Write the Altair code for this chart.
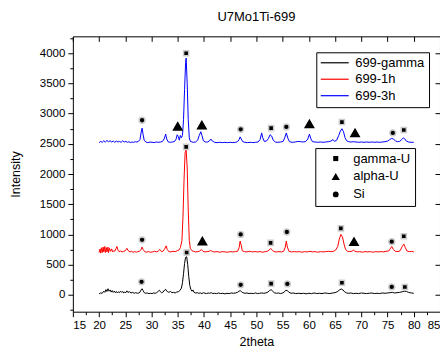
import altair as alt
import pandas as pd

FONT = "Liberation Sans"

# ---------------- data ----------------
series_names = ["699-gamma", "699-1h", "699-3h"]
series_colors = ["#000000", "#ff0000", "#0000ff"]

gamma_x = [20.0, 20.3, 20.6, 20.9, 21.1, 21.3, 21.5, 21.7, 21.9, 22.1, 22.3, 22.5, 22.7, 22.9, 23.1, 23.3, 23.5, 23.7, 23.9, 24.1,
           24.3, 24.5, 24.7, 24.9, 25.1, 25.3, 25.5, 25.8, 26.1, 26.4, 26.7, 27.0, 27.3, 27.6, 27.8, 28.0, 28.2, 28.4, 28.6, 28.9,
           29.2, 29.5, 29.8, 30.1, 30.4, 30.7, 31.0, 31.3, 31.5, 31.7, 31.9, 32.2, 32.5, 32.7, 32.9, 33.1, 33.3, 33.6, 33.9, 34.2,
           34.5, 34.8, 35.1, 35.4, 35.7, 35.9, 36.1, 36.3, 36.5, 36.7, 36.9, 37.1, 37.3, 37.5, 37.7, 37.9, 38.1, 38.4, 38.7, 39.0,
           39.3, 39.6, 39.9, 40.2, 40.5, 40.8, 41.1, 41.4, 41.7, 42.0, 42.4, 42.8, 43.2, 43.6, 44.0, 44.4, 44.8, 45.2, 45.6, 46.0,
           46.4, 46.7, 46.9, 47.1, 47.4, 47.8, 48.2, 48.6, 49.0, 49.4, 49.8, 50.2, 50.6, 51.0, 51.4, 51.8, 52.2, 52.5, 52.8, 53.1,
           53.4, 53.8, 54.2, 54.6, 55.0, 55.3, 55.6, 55.9, 56.2, 56.6, 57.0, 57.5, 58.0, 58.5, 59.0, 59.5, 60.0, 60.5, 61.0, 61.5,
           62.0, 62.5, 63.0, 63.5, 64.0, 64.5, 65.0, 65.5, 65.9, 66.2, 66.5, 66.8, 67.2, 67.6, 68.0, 68.5, 69.0, 69.5, 70.0, 70.5,
           71.0, 71.5, 72.0, 72.5, 73.0, 73.5, 74.0, 74.5, 75.0, 75.5, 75.9, 76.3, 76.8, 77.3, 77.8, 78.2, 78.6, 79.0, 79.5, 80.0]
gamma_y = [15, 30, 25, 60, 40, 85, 55, 100, 60, 80, 45, 70, 40, 60, 35, 55, 30, 50, 35, 60,
           40, 55, 30, 45, 35, 65, 40, 50, 30, 40, 25, 35, 25, 30, 45, 80, 100, 70, 35, 25,
           30, 20, 25, 20, 30, 25, 35, 60, 75, 50, 35, 45, 80, 90, 60, 50, 40, 55, 35, 40,
           30, 45, 50, 70, 110, 200, 350, 520, 620, 630, 500, 300, 150, 90, 60, 80, 40, 30, 35, 25,
           30, 20, 35, 25, 20, 30, 25, 35, 20, 25, 20, 30, 20, 25, 15, 25, 20, 30, 25, 30,
           40, 60, 70, 55, 35, 25, 30, 20, 25, 20, 30, 20, 25, 30, 25, 30, 45, 70, 85, 60,
           35, 25, 30, 20, 30, 45, 75, 70, 40, 25, 30, 20, 25, 20, 25, 15, 25, 20, 30, 20,
           25, 20, 30, 25, 20, 30, 35, 55, 85, 95, 80, 50, 30, 25, 30, 20, 25, 20, 30, 25,
           20, 25, 30, 20, 25, 20, 30, 25, 30, 35, 40, 30, 35, 40, 50, 60, 55, 40, 30, 25]

h1_x = [20.0, 20.2, 20.3, 20.5, 20.6, 20.8, 20.9, 21.1, 21.2, 21.4, 21.5, 21.7, 21.8, 22.0, 22.2, 22.4, 22.6, 22.8, 23.0, 23.2,
        23.4, 23.6, 23.8, 24.1, 24.4, 24.7, 25.0, 25.3, 25.6, 25.9, 26.2, 26.5, 26.8, 27.1, 27.4, 27.7, 28.0, 28.2, 28.4, 28.7,
        29.0, 29.4, 29.8, 30.2, 30.6, 31.0, 31.3, 31.6, 31.9, 32.2, 32.5, 32.8, 33.0, 33.3, 33.7, 34.1, 34.5, 34.9, 35.2, 35.5,
        35.8, 36.0, 36.2, 36.4, 36.6, 36.8, 37.0, 37.2, 37.4, 37.7, 38.0, 38.4, 38.8, 39.2, 39.5, 39.8, 40.2, 40.6, 41.0, 41.3,
        41.6, 42.0, 42.5, 43.0, 43.5, 44.0, 44.5, 45.0, 45.5, 46.0, 46.4, 46.7, 46.9, 47.1, 47.3, 47.7, 48.2, 48.7, 49.2, 49.7,
        50.2, 50.7, 51.2, 51.7, 52.1, 52.4, 52.7, 53.0, 53.3, 53.8, 54.3, 54.8, 55.2, 55.5, 55.7, 55.9, 56.2, 56.7, 57.2, 57.7,
        58.2, 58.7, 59.2, 59.7, 60.2, 60.7, 61.2, 61.7, 62.2, 62.7, 63.2, 63.7, 64.2, 64.7, 65.1, 65.5, 65.8, 66.1, 66.4, 66.7,
        67.0, 67.4, 67.8, 68.2, 68.5, 68.8, 69.2, 69.7, 70.2, 70.7, 71.2, 71.7, 72.2, 72.7, 73.2, 73.7, 74.2, 74.7, 75.2, 75.5,
        75.8, 76.1, 76.5, 77.0, 77.4, 77.8, 78.1, 78.4, 78.7, 79.2, 79.6, 80.0]
h1_y = [700, 760, 690, 780, 700, 790, 710, 800, 700, 780, 710, 790, 700, 770, 720, 760, 710, 730, 720, 760,
        800, 740, 715, 725, 710, 720, 730, 770, 725, 710, 720, 705, 715, 705, 715, 720, 750, 790, 750, 715,
        705, 715, 705, 710, 720, 710, 725, 750, 715, 720, 760, 810, 750, 715, 710, 720, 715, 730, 740, 780,
        900, 1300, 1900, 2350, 2400, 2100, 1400, 900, 770, 730, 720, 710, 715, 725, 750, 720, 710, 715, 720, 735,
        715, 710, 715, 705, 715, 710, 705, 715, 710, 715, 720, 780, 890, 820, 730, 715, 710, 720, 710, 715,
        710, 715, 705, 715, 720, 740, 765, 745, 715, 710, 715, 710, 720, 790, 890, 790, 720, 710, 715, 710,
        715, 705, 715, 710, 720, 710, 715, 705, 715, 710, 715, 720, 715, 720, 740, 800, 920, 1000, 960, 840,
        750, 720, 715, 720, 740, 720, 710, 715, 705, 715, 710, 715, 705, 715, 710, 715, 710, 720, 725, 760,
        800, 750, 720, 715, 730, 800, 840, 780, 725, 715, 720, 710]

h3_x = [20.0, 20.3, 20.6, 20.9, 21.2, 21.5, 21.8, 22.1, 22.4, 22.7, 23.0, 23.3, 23.6, 23.9, 24.2, 24.5, 24.8, 25.1, 25.4, 25.7,
        26.0, 26.3, 26.6, 26.9, 27.2, 27.5, 27.8, 28.0, 28.2, 28.4, 28.6, 28.9, 29.3, 29.7, 30.1, 30.5, 30.9, 31.3, 31.7, 32.1,
        32.4, 32.7, 32.9, 33.2, 33.6, 34.0, 34.4, 34.7, 34.9, 35.1, 35.3, 35.5, 35.7, 35.9, 36.1, 36.3, 36.5, 36.6, 36.8, 37.0,
        37.2, 37.4, 37.7, 38.0, 38.4, 38.8, 39.1, 39.4, 39.6, 39.9, 40.3, 40.7, 41.0, 41.3, 41.6, 42.0, 42.5, 43.0, 43.5, 44.0,
        44.5, 45.0, 45.5, 46.0, 46.4, 46.7, 46.9, 47.1, 47.4, 47.8, 48.3, 48.8, 49.3, 49.8, 50.3, 50.7, 51.0, 51.2, 51.5, 51.9,
        52.3, 52.6, 52.9, 53.2, 53.6, 54.1, 54.6, 55.1, 55.4, 55.7, 56.0, 56.3, 56.8, 57.4, 57.9, 58.4, 58.9, 59.4, 59.8, 60.1,
        60.4, 60.7, 61.2, 61.7, 62.2, 62.7, 63.2, 63.7, 64.2, 64.6, 64.9, 65.3, 65.7, 66.0, 66.3, 66.6, 66.9, 67.2, 67.6, 68.0,
        68.5, 69.0, 69.5, 70.0, 70.5, 71.0, 71.5, 72.0, 72.5, 73.0, 73.5, 74.0, 74.5, 75.0, 75.4, 75.8, 76.1, 76.5, 76.9, 77.3,
        77.7, 78.0, 78.3, 78.6, 79.0, 79.5, 80.0]
h3_y = [2520, 2540, 2525, 2550, 2530, 2555, 2535, 2550, 2530, 2545, 2525, 2545, 2530, 2540, 2525, 2550, 2530, 2540, 2525, 2535,
        2520, 2530, 2525, 2535, 2530, 2540, 2570, 2680, 2760, 2650, 2560, 2530, 2520, 2530, 2525, 2520, 2530, 2525, 2530, 2540,
        2580, 2660, 2580, 2530, 2525, 2530, 2540, 2580, 2650, 2620, 2560, 2640, 2600, 2640, 2900, 3400, 3850, 3920, 3500, 2900,
        2600, 2540, 2530, 2525, 2530, 2560, 2640, 2700, 2640, 2550, 2530, 2530, 2545, 2580, 2545, 2525, 2520, 2525, 2520, 2525,
        2520, 2525, 2520, 2525, 2535, 2570, 2615, 2580, 2535, 2525, 2520, 2525, 2520, 2525, 2530, 2570, 2680, 2600, 2540, 2545,
        2590, 2650, 2630, 2560, 2530, 2525, 2530, 2540, 2600, 2680, 2590, 2535, 2525, 2530, 2540, 2535, 2530, 2540, 2580, 2660,
        2580, 2535, 2530, 2525, 2530, 2525, 2530, 2535, 2545, 2570, 2540, 2560, 2640, 2710, 2750, 2700, 2600, 2550, 2535, 2530,
        2535, 2530, 2525, 2530, 2525, 2530, 2525, 2530, 2525, 2530, 2525, 2530, 2535, 2545, 2570, 2590, 2580, 2550, 2535, 2540,
        2570, 2600, 2580, 2545, 2530, 2525, 2525]

phase_names = ["gamma-U", "alpha-U", "Si"]
phase_shapes = ["square", "triangle-up", "circle"]
phase_sizes = [26, 70, 34]

marker_x = [28.2, 35.0, 36.6, 39.6, 47.0, 52.8, 55.7, 60.1, 66.3, 68.8, 76.0, 78.1,
            28.2, 36.6, 39.7, 47.0, 52.7, 55.8, 66.1, 68.6, 75.8, 78.1,
            28.1, 36.7, 47.0, 52.8, 55.9, 66.3, 75.8, 78.3]
marker_y = [2890, 2790, 4000, 2810, 2740, 2760, 2780, 2830, 2860, 2680, 2680, 2730,
            910, 2450, 890, 1000, 860, 1040, 1100, 880, 880, 970,
            215, 700, 165, 185, 180, 200, 130, 130]
marker_phase = ["Si", "alpha-U", "gamma-U", "alpha-U", "Si", "gamma-U", "Si", "alpha-U", "gamma-U", "alpha-U", "Si", "gamma-U",
                "Si", "gamma-U", "alpha-U", "Si", "gamma-U", "Si", "gamma-U", "alpha-U", "Si", "gamma-U",
                "Si", "gamma-U", "Si", "gamma-U", "Si", "gamma-U", "Si", "gamma-U"]

x_minor_ticks = [15 + 2.5 * i for i in range(29)]
x_major_ticks = [15 + 5 * i for i in range(15)]
y_minor_ticks = [-250 + 250 * i for i in range(19)]
y_major_ticks = [500 * i for i in range(9)]
x_domain = [15, 85]
y_domain = [-280, 4280]

# ---------------- tables ----------------
rows = []
for name, xs_, ys_ in zip(series_names, [gamma_x, h1_x, h3_x], [gamma_y, h1_y, h3_y]):
    for i, (a, b) in enumerate(zip(xs_, ys_)):
        rows.append({"series": name, "two_theta": a, "intensity": b, "idx": i})
lines_df = pd.DataFrame(rows)
markers_df = pd.DataFrame({"two_theta": marker_x, "intensity": marker_y, "phase": marker_phase})

xs = alt.Scale(domain=x_domain, nice=False, zero=False)
ys = alt.Scale(domain=y_domain, nice=False, zero=False)

lines = alt.Chart(lines_df).mark_line(strokeWidth=1, clip=True).encode(
    x=alt.X("two_theta:Q", scale=xs, title="2theta",
            axis=alt.Axis(orient="bottom", values=x_minor_ticks,
                          labelExpr="datum.value % 5 === 0 ? datum.label : ''",
                          tickSize={"condition": {"test": "datum.value % 5 !== 0", "value": 3}, "value": 5},
                          titlePadding=4)),
    y=alt.Y("intensity:Q", scale=ys, title="Intensity",
            axis=alt.Axis(orient="left", values=y_minor_ticks, format="d",
                          labelExpr="datum.value % 500 === 0 ? datum.label : ''",
                          tickSize={"condition": {"test": "datum.value % 500 !== 0", "value": 3}, "value": 5},
                          titlePadding=17)),
    color=alt.Color("series:N", scale=alt.Scale(domain=series_names, range=series_colors),
                    legend=alt.Legend(title=None, orient="none", legendX=244, legendY=16,
                                      strokeColor="black", fillColor="white", padding=4,
                                      symbolType="M-1.2,0H4.4", symbolSize=100, symbolStrokeWidth=1.2,
                                      labelFont=FONT, labelFontSize=13, labelColor="black",
                                      labelOffset=22, rowPadding=2.5, labelExpr="datum.label + ' '")),
    order="idx:Q",
)

phase_legend = alt.Legend(title=None, orient="none", legendX=243, legendY=112,
                          strokeColor="black", fillColor="white", padding=4,
                          symbolOffset=10, labelOffset=11, rowPadding=4,
                          symbolFillColor="black", symbolStrokeWidth=0,
                          labelFont=FONT, labelFontSize=13, labelColor="black",
                          labelExpr="datum.label + '     '")

markers = alt.Chart(markers_df).mark_point(filled=True, opacity=1, strokeWidth=1.5).encode(
    x=alt.X("two_theta:Q", scale=xs, title=None,
            axis=alt.Axis(orient="top", values=x_major_ticks, labels=False, domain=False,
                          offset=-5, tickSize=5)),
    y=alt.Y("intensity:Q", scale=ys, title=None,
            axis=alt.Axis(orient="right", values=y_major_ticks, labels=False, domain=False,
                          offset=-5, tickSize=5)),
    shape=alt.Shape("phase:N", scale=alt.Scale(domain=phase_names, range=phase_shapes), legend=phase_legend),
    size=alt.Size("phase:N", scale=alt.Scale(type="ordinal", domain=phase_names, range=phase_sizes),
                  legend=phase_legend),
    fill=alt.value("black"),
    stroke=alt.condition(alt.datum.phase == "alpha-U", alt.value("black"), alt.value("#cccccc")),
)

chart = alt.layer(lines, markers).resolve_axis(x="independent", y="independent").properties(
    width=368, height=276,
    autosize=alt.AutoSizeParams(type="none"),
    padding={"left": 65, "top": 28, "right": 0, "bottom": 40},
    background="white",
    title=alt.TitleParams("U7Mo1Ti-699", font=FONT, fontSize=13, fontWeight="normal",
                          anchor="middle", frame="group", offset=12, color="black"),
).configure_view(stroke="black", strokeWidth=1).configure_axis(
    grid=False, domain=False, tickColor="black", tickWidth=1,
    labelFont=FONT, labelFontSize=11.5, labelColor="black", labelPadding=3,
    titleFont=FONT, titleFontSize=12.5, titleFontWeight="normal", titleColor="black",
)

chart.save("out.html", embed_options={"renderer": "svg", "actions": False})
